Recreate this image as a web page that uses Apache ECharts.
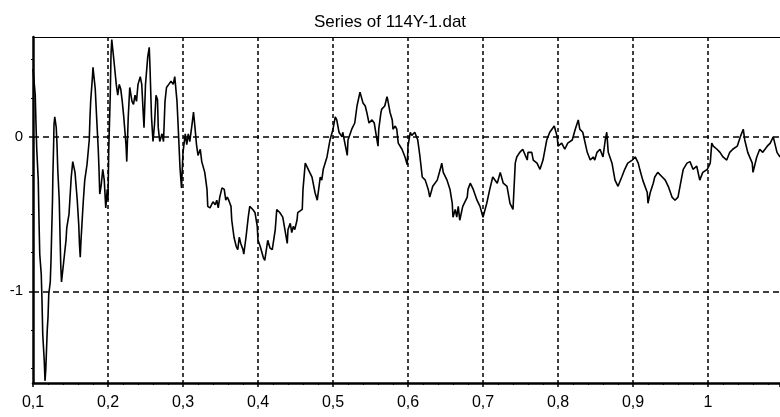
<!DOCTYPE html>
<html>
<head>
<meta charset="utf-8">
<script src="https://cdn.jsdelivr.net/npm/echarts@6/dist/echarts.min.js"></script>
<style>
html,body{margin:0;padding:0;background:#fff;}
#chart{width:780px;height:417px;}
</style>
</head>
<body>
<div id="chart"></div>
<script>
const chartTitle = 'Series of 114Y-1.dat';
const xLabelTicks = [0.1, 0.2, 0.3, 0.4, 0.5, 0.6, 0.7, 0.8, 0.9, 1.0];
const yLabelTicks = [-1, 0];
const yMinorTicks = [-1.5, -1.25, -0.75, -0.5, -0.25, 0.25, 0.5];
const xGridLines = [0.2, 0.3, 0.4, 0.5, 0.6, 0.7, 0.8, 0.9, 1.0];
const yGridLines = [-1, 0];

const xValues = [
0.100,0.103,0.104,0.105,0.107,0.108,0.109,0.111,0.112,0.113,0.115,0.116,0.117,0.118,0.119,0.120,0.121,0.123,0.124,0.125,
0.126,0.1265,0.1275,0.128,0.129,0.131,0.132,0.133,0.135,0.136,0.137,0.138,0.140,0.142,0.144,0.145,0.148,0.149,0.151,0.153,
0.156,0.159,0.161,0.162,0.163,0.164,0.167,0.169,0.172,0.175,0.176,0.177,0.179,0.180,0.183,0.185,0.187,0.188,0.189,0.191,
0.193,0.195,0.197,0.199,0.200,0.201,0.203,0.204,0.205,0.207,0.208,0.211,0.213,0.215,0.217,0.219,0.221,0.224,0.225,0.227,
0.229,0.232,0.234,0.236,0.238,0.240,0.243,0.245,0.247,0.248,0.250,0.253,0.255,0.256,0.258,0.260,0.262,0.264,0.266,0.267,
0.269,0.272,0.274,0.276,0.278,0.281,0.284,0.287,0.289,0.292,0.294,0.296,0.298,0.300,0.303,0.305,0.307,0.309,0.312,0.314,
0.316,0.318,0.320,0.323,0.325,0.329,0.332,0.333,0.336,0.340,0.343,0.345,0.347,0.349,0.352,0.355,0.357,0.359,0.361,0.364,
0.365,0.368,0.371,0.373,0.375,0.377,0.380,0.381,0.384,0.387,0.389,0.393,0.396,0.399,0.400,0.403,0.407,0.409,0.413,0.416,
0.419,0.423,0.425,0.429,0.433,0.439,0.440,0.443,0.445,0.447,0.449,0.452,0.453,0.459,0.460,0.463,0.467,0.472,0.476,0.479,
0.483,0.485,0.487,0.492,0.496,0.500,0.503,0.505,0.508,0.512,0.513,0.519,0.520,0.525,0.529,0.532,0.536,0.540,0.543,0.545,
0.548,0.552,0.555,0.557,0.560,0.561,0.564,0.565,0.569,0.572,0.573,0.576,0.579,0.580,0.583,0.585,0.587,0.592,0.596,0.599,
0.600,0.603,0.605,0.609,0.613,0.616,0.619,0.623,0.627,0.629,0.633,0.639,0.643,0.645,0.647,0.652,0.656,0.659,0.660,0.663,
0.665,0.667,0.669,0.673,0.679,0.680,0.683,0.687,0.692,0.696,0.700,0.705,0.709,0.713,0.719,0.723,0.727,0.732,0.736,0.740,
0.743,0.745,0.749,0.753,0.759,0.760,0.765,0.767,0.772,0.776,0.780,0.785,0.789,0.795,0.799,0.800,0.805,0.809,0.813,0.819,
0.823,0.827,0.829,0.833,0.839,0.843,0.847,0.849,0.852,0.856,0.860,0.863,0.865,0.867,0.872,0.876,0.880,0.885,0.889,0.893,
0.899,0.903,0.907,0.909,0.913,0.919,0.920,0.923,0.927,0.929,0.933,0.939,0.943,0.947,0.952,0.956,0.960,0.965,0.967,0.972,
0.976,0.980,0.985,0.989,0.993,0.999,1.003,1.005,1.007,1.012,1.016,1.020,1.025,1.029,1.033,1.039,1.043,1.047,1.049,1.053,
1.059,1.060,1.065,1.069,1.073,1.079,1.083,1.087,1.092,1.096
];
const yValues = [
0.44,0.27,0.08,-0.08,-0.28,-0.54,-0.76,-0.89,-1.06,-1.28,-1.45,-1.58,-1.51,-1.38,-1.25,-1.17,-1.02,-0.94,-0.80,-0.60,
-0.41,-0.25,-0.05,0.08,0.13,0.06,-0.05,-0.21,-0.41,-0.63,-0.83,-0.94,-0.85,-0.76,-0.67,-0.59,-0.50,-0.42,-0.26,-0.16,
-0.23,-0.41,-0.57,-0.70,-0.78,-0.67,-0.42,-0.28,-0.18,-0.02,0.13,0.24,0.37,0.45,0.31,0.11,-0.08,-0.21,-0.37,-0.31,
-0.21,-0.28,-0.46,-0.34,-0.41,-0.08,0.27,0.53,0.63,0.64,0.49,0.34,0.27,0.34,0.31,0.23,0.13,-0.05,-0.16,0.13,
0.32,0.23,0.21,0.27,0.23,0.34,0.39,0.34,0.15,0.06,0.34,0.52,0.58,0.45,0.13,-0.03,0.08,0.27,0.24,0.06,
-0.03,0.02,-0.03,0.23,0.32,0.34,0.36,0.34,0.39,0.23,0.02,-0.20,-0.33,-0.10,0.02,-0.05,0.02,-0.03,0.08,0.16,
0.06,-0.05,-0.12,-0.08,-0.16,-0.23,-0.34,-0.45,-0.46,-0.42,-0.44,-0.41,-0.46,-0.39,-0.33,-0.34,-0.41,-0.39,-0.41,-0.45,
-0.54,-0.65,-0.71,-0.73,-0.65,-0.69,-0.73,-0.76,-0.65,-0.52,-0.45,-0.47,-0.49,-0.58,-0.67,-0.71,-0.78,-0.80,-0.67,-0.72,
-0.73,-0.60,-0.47,-0.49,-0.52,-0.69,-0.60,-0.56,-0.62,-0.58,-0.60,-0.54,-0.49,-0.47,-0.34,-0.17,-0.21,-0.26,-0.36,-0.41,
-0.26,-0.28,-0.21,-0.13,-0.02,0.05,0.13,0.11,0.03,0.00,0.03,-0.12,-0.02,0.05,0.09,0.20,0.29,0.22,0.20,0.16,
0.09,0.11,0.09,0.03,-0.06,0.05,0.16,0.18,0.20,0.26,0.24,0.16,0.11,0.05,0.07,0.05,-0.04,-0.08,-0.13,-0.18,
-0.06,0.03,0.01,0.03,-0.02,-0.13,-0.26,-0.28,-0.34,-0.39,-0.32,-0.28,-0.21,-0.17,-0.23,-0.28,-0.34,-0.43,-0.52,-0.47,
-0.52,-0.45,-0.54,-0.45,-0.39,-0.34,-0.30,-0.34,-0.41,-0.45,-0.52,-0.43,-0.34,-0.26,-0.30,-0.23,-0.30,-0.32,-0.43,-0.47,
-0.17,-0.13,-0.10,-0.08,-0.15,-0.10,-0.10,-0.15,-0.17,-0.21,-0.15,-0.02,0.03,0.07,0.00,-0.06,-0.04,-0.08,-0.04,-0.02,
0.05,0.11,0.05,0.03,-0.10,-0.15,-0.13,-0.15,-0.10,-0.08,-0.13,-0.02,0.03,-0.10,-0.17,-0.28,-0.32,-0.26,-0.21,-0.17,
-0.15,-0.13,-0.17,-0.21,-0.28,-0.36,-0.43,-0.36,-0.30,-0.26,-0.23,-0.26,-0.28,-0.32,-0.39,-0.41,-0.39,-0.26,-0.21,-0.17,
-0.16,-0.21,-0.19,-0.28,-0.23,-0.21,-0.17,-0.04,-0.06,-0.08,-0.10,-0.13,-0.15,-0.10,-0.08,-0.06,0.00,0.05,-0.02,-0.10,
-0.17,-0.23,-0.13,-0.08,-0.10,-0.06,-0.04,0.00,-0.10,-0.13
];

const seriesData = xValues.map((x, i) => [x, yValues[i]]);
const X_MIN = 0.1, X_MAX = 1.096, Y_MIN = -1.594, Y_MAX = 0.647;

function fmtComma(v) {
  const r = Math.round(v * 10) / 10;
  if (Math.abs(v - r) > 1e-6) return '';
  return String(r).replace('.', ',');
}

const chart = echarts.init(document.getElementById('chart'), null, {renderer: 'canvas'});
const font = 'Liberation Sans, Arial, sans-serif';
chart.setOption({
  animation: false,
  backgroundColor: '#ffffff',
  title: {
    text: chartTitle,
    left: 'center',
    top: 9,
    textStyle: {fontFamily: font, fontSize: 17, fontWeight: 'normal', color: '#000'}
  },
  grid: {left: 33, right: 0, top: 37, bottom: 34, containLabel: false},
  xAxis: [{
    type: 'value', min: X_MIN, max: X_MAX, interval: 0.1,
    axisLine: {show: true, onZero: false, lineStyle: {color: '#000', width: 2.5}},
    axisTick: {show: true, length: 4, lineStyle: {color: '#000', width: 1.5}},
    minorTick: {show: true, splitNumber: 5, length: 2, lineStyle: {color: '#000', width: 1}},
    axisLabel: {
      fontFamily: font, fontSize: 16, color: '#000', margin: 12,
      formatter: fmtComma, showMaxLabel: false
    },
    splitLine: {
      show: true, showMinLine: false, showMaxLine: false,
      lineStyle: {color: '#000', width: 1.5, type: [4, 3]}
    }
  }, {
    type: 'value', position: 'top', min: X_MIN, max: X_MAX,
    axisLine: {show: true, onZero: false, lineStyle: {color: '#000', width: 1.2}},
    axisTick: {show: false}, axisLabel: {show: false}, splitLine: {show: false}
  }],
  yAxis: [{
    type: 'value', min: Y_MIN, max: Y_MAX,
    axisLine: {show: true, onZero: false, lineStyle: {color: '#000', width: 2.5}},
    axisTick: {show: true, length: 4, customValues: yLabelTicks, lineStyle: {color: '#000', width: 1.5}},
    axisLabel: {fontFamily: font, fontSize: 15, color: '#000', margin: 10, customValues: yLabelTicks},
    splitLine: {show: false}
  }, {
    type: 'value', position: 'left', min: Y_MIN, max: Y_MAX,
    axisLine: {show: false},
    axisTick: {show: true, length: 2, customValues: yMinorTicks, lineStyle: {color: '#000', width: 1}},
    axisLabel: {show: false, customValues: yMinorTicks},
    splitLine: {show: false}
  }],
  series: [{
    type: 'line',
    data: seriesData,
    showSymbol: false,
    silent: true,
    z: 1,
    lineStyle: {opacity: 0},
    markLine: {
      silent: true, symbol: 'none', label: {show: false},
      lineStyle: {color: '#000', width: 1.5, type: [6, 4]},
      data: yGridLines.map(v => ({yAxis: v}))
    }
  }, {
    type: 'line',
    data: seriesData,
    showSymbol: false,
    z: 3,
    lineStyle: {color: '#000', width: 1.6},
    itemStyle: {color: '#000'}
  }]
});
</script>
</body>
</html>
